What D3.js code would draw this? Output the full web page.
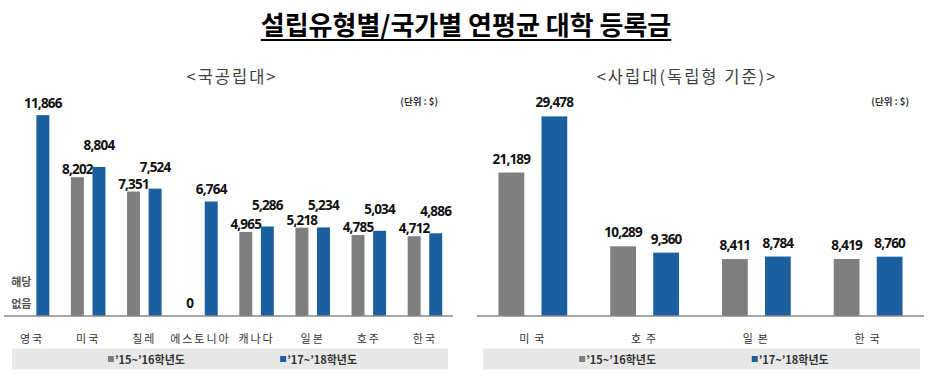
<!DOCTYPE html>
<html>
<head>
<meta charset="utf-8">
<script src="https://cdn.jsdelivr.net/npm/d3@7"></script>
<style>
  body { margin: 0; background: #fff; }
  svg { display: block; font-family: "Noto Sans CJK KR", "Noto Sans", sans-serif; }
  .value { font-family: "Noto Sans", "Noto Sans CJK KR", sans-serif; font-weight: 700; font-size: 13.5px; fill: #111; letter-spacing: -0.8px; }
  .cat { font-size: 11px; fill: #333; }
  .sub { font-size: 16.5px; fill: #404040; letter-spacing: 2px; }
  .unit { font-size: 9.5px; fill: #333; font-weight: 700; }
  .legend-text { font-size: 11px; fill: #333; font-weight: 700; }
</style>
</head>
<body>
<div class="chart"></div>
<script>
const width = 929, height = 380;

// data
const title = "설립유형별/국가별 연평균 대학 등록금";
const seriesNames = ["’15~’16학년도", "’17~’18학년도"];
const colors = ["#7f7f7f", "#1c5f9f"];

const publicTitle = "<국공립대>";
const publicCats = ["영국", "미국", "칠레", "에스토니아", "캐나다", "일본", "호주", "한국"];
const public1516 = [null, 8202, 7351, 0, 4965, 5218, 4785, 4712];
const public1718 = [11866, 8804, 7524, 6764, 5286, 5234, 5034, 4886];
const publicMax = 14000;

const privateTitle = "<사립대(독립형 기준)>";
const privateCats = ["미국", "호주", "일본", "한국"];
const private1516 = [21189, 10289, 8411, 8419];
const private1718 = [29478, 9360, 8784, 8760];
const privateMax = 35000;

const unitText = "(단위 : $)";
const noDataText = ["해당", "없음"];

const svg = d3.select(".chart").append("svg")
  .attr("width", width)
  .attr("height", height);

// title + underline
const titleText = svg.append("text")
  .attr("x", 466)
  .attr("y", 35)
  .attr("text-anchor", "middle")
  .style("font-size", "26px")
  .style("font-weight", 700)
  .style("fill", "#000")
  .text(title);
const tb = titleText.node().getBBox();
svg.append("line")
  .attr("x1", tb.x).attr("x2", tb.x + tb.width)
  .attr("y1", 40).attr("y2", 40)
  .style("stroke", "#000").style("stroke-width", 2);

const baseY = 316, topY = 79;
const fmt = d3.format(",");

function drawPanel(p) {
  const g = svg.append("g");

  const x0 = d3.scaleBand()
    .domain(p.cats)
    .range(p.range);
  const x1 = d3.scaleBand()
    .domain([0, 1])
    .range([0, x0.bandwidth()])
    .paddingInner(0.4)
    .paddingOuter(0.5);
  const y = d3.scaleLinear()
    .domain([0, p.max])
    .range([baseY, topY]);

  const rows = p.cats.map(function (c, i) {
    return { cat: c, values: [p.s1[i], p.s2[i]] };
  });

  // subtitle
  g.append("text")
    .attr("class", "sub")
    .attr("x", p.subX + 1)
    .attr("y", 83)
    .attr("text-anchor", "middle")
    .text(p.title);

  g.append("text")
    .attr("class", "unit")
    .attr("x", p.range[1] - 15)
    .attr("y", 105)
    .attr("text-anchor", "end")
    .text(unitText);

  const groups = g.selectAll(".grp").data(rows)
    .enter().append("g")
    .attr("class", "grp")
    .attr("transform", function (d) { return "translate(" + x0(d.cat) + ",0)"; });

  const cells = groups.selectAll(".cell")
    .data(function (d) {
      return d.values.map(function (v, k) {
        return { k: k, v: v, other: d.values[0] };
      });
    })
    .enter().append("g").attr("class", "cell");

  cells.filter(function (d) { return d.v != null && d.v > 0; })
    .append("rect")
    .attr("x", function (d) { return x1(d.k); })
    .attr("width", x1.bandwidth())
    .attr("y", function (d) { return y(d.v); })
    .attr("height", function (d) { return baseY - y(d.v); })
    .style("fill", function (d) { return colors[d.k]; });

  // value labels; on the narrow panel the blue label is lifted so the pair doesn't collide
  cells.filter(function (d) { return d.v != null; })
    .append("text")
    .attr("class", "value")
    .attr("text-anchor", "middle")
    .attr("x", function (d) { return x1(d.k) + x1.bandwidth() / 2; })
    .attr("y", function (d) {
      const lift = p.stagger && d.k === 1 && d.other > 0;
      return y(d.v) - (lift ? 17 : (d.v > 0 ? p.gap[d.k] : 8));
    })
    .text(function (d) { return fmt(d.v); });

  // "해당 없음" where there is no value
  cells.filter(function (d) { return d.v == null; })
    .selectAll(".nd").data(noDataText)
    .enter().append("text")
    .attr("text-anchor", "middle")
    .attr("x", function () { return x1(0) + x1.bandwidth() / 2; })
    .attr("y", function (t, i) { return 286 + i * 22; })
    .style("font-size", "11px")
    .style("font-weight", 700)
    .style("fill", "#555")
    .text(function (t) { return t; });

  // axis line
  g.append("line")
    .attr("x1", p.range[0]).attr("x2", p.range[1])
    .attr("y1", baseY).attr("y2", baseY)
    .style("stroke", "#8a8a8a").style("stroke-width", 1.6);

  // category labels
  g.selectAll(".cat").data(p.cats)
    .enter().append("text")
    .attr("class", "cat")
    .attr("text-anchor", "middle")
    .style("letter-spacing", p.catSpacing + "px")
    .attr("x", function (d) { return x0(d) + x0.bandwidth() / 2 + p.catSpacing / 2 - 1; })
    .attr("y", 343)
    .text(function (d) { return d; });

  // legend
  const lx = p.legend[0], lw = p.legend[1] - p.legend[0];
  g.append("rect")
    .attr("x", lx).attr("y", 348.5)
    .attr("width", lw).attr("height", 21)
    .style("fill", "#e8e8e8");
  const items = g.selectAll(".leg").data(seriesNames)
    .enter().append("g")
    .attr("transform", function (d, i) {
      return "translate(" + (lx + lw * (i === 0 ? 0.22 : 0.615)) + ",359)";
    });
  items.append("rect")
    .attr("x", 0).attr("y", -3)
    .attr("width", 6).attr("height", 6)
    .style("fill", function (d, i) { return colors[i]; });
  items.append("text")
    .attr("class", "legend-text")
    .attr("x", 7).attr("y", 4.5)
    .text(function (d) { return d; });
}

drawPanel({
  title: publicTitle, cats: publicCats, s1: public1516, s2: public1718,
  max: publicMax, range: [4, 453], legend: [12, 448], stagger: true, gap: [3, 7],
  subX: 231, catSpacing: 2
});
drawPanel({
  title: privateTitle, cats: privateCats, s1: private1516, s2: private1718,
  max: privateMax, range: [477, 924], legend: [483, 920], stagger: false, gap: [9, 9],
  subX: 686, catSpacing: 5
});
</script>
</body>
</html>
